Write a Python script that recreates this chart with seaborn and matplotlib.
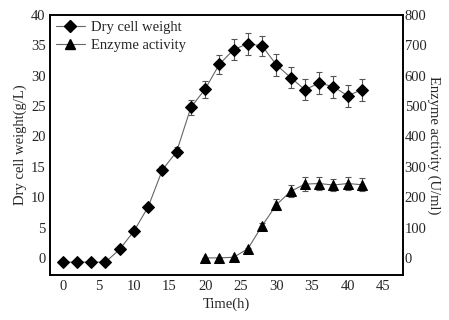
import numpy as np
import pandas as pd
import matplotlib
matplotlib.use("Agg")
import matplotlib.pyplot as plt
import seaborn as sns
from matplotlib.lines import Line2D

# dry cell weight (g/L), every 2 h
time_dcw = [0, 2, 4, 6, 8, 10, 12, 14, 16, 18, 20, 22, 24, 26, 28, 30, 32, 34, 36, 38, 40, 42]
dcw = [-0.7, -0.7, -0.7, -0.7, 1.4, 4.4, 8.4, 14.5, 17.5, 24.8, 27.8, 31.9,
       34.3, 35.3, 34.9, 31.8, 29.7, 27.7, 28.8, 28.2, 26.7, 27.7]
dcw_err = [0, 0, 0, 0, 0.2, 0.3, 0.3, 0.6, 0.8, 1.2, 1.4, 1.6,
           1.7, 1.8, 1.7, 1.8, 1.8, 1.7, 1.8, 1.8, 1.8, 1.8]

# enzyme activity (U/ml)
time_enz = [20, 22, 24, 26, 28, 30, 32, 34, 36, 38, 40, 42]
enz = [0, 0, 2, 30, 106, 175, 219, 243, 245, 240, 245, 241]
enz_err = [0, 0, 0, 3, 10, 18, 20, 22, 22, 20, 20, 22]

sns.set_style("white")
plt.rcParams["font.family"] = ["Liberation Serif", "DejaVu Serif"]
plt.rcParams["font.size"] = 10.5

df_dcw = pd.DataFrame({"Time": time_dcw, "DCW": dcw, "err": dcw_err})
df_enz = pd.DataFrame({"Time": time_enz, "Enzyme": enz, "err": enz_err})

fig = plt.figure(figsize=(4.49, 3.2), dpi=100)
ax = fig.add_axes([0.111, 0.141, 0.787, 0.812])
ax2 = ax.twinx()

ax.errorbar(df_dcw["Time"], df_dcw["DCW"], yerr=df_dcw["err"], fmt="none",
            ecolor="#555555", elinewidth=0.8, capsize=2.5, capthick=0.8)
sns.lineplot(data=df_dcw, x="Time", y="DCW", ax=ax, color="#666666", linewidth=0.8,
             marker="D", markersize=6, markerfacecolor="black", markeredgecolor="black")

ax2.errorbar(df_enz["Time"], df_enz["Enzyme"], yerr=df_enz["err"], fmt="none",
             ecolor="#555555", elinewidth=0.8, capsize=2.5, capthick=0.8)
sns.lineplot(data=df_enz, x="Time", y="Enzyme", ax=ax2, color="#666666", linewidth=0.8,
             marker="^", markersize=7, markerfacecolor="black", markeredgecolor="black")

ax.set_xlim(-1.8, 47.8)
ax.set_ylim(-2.8, 40)
ax2.set_ylim(-56, 800)
ax.set_xticks(range(0, 50, 5))
ax.set_yticks(range(0, 45, 5))
ax2.set_yticks(range(0, 900, 100))

ax.set_xlabel("Time(h)", labelpad=3)
ax.set_ylabel("Dry cell weight(g/L)", labelpad=3)
ax2.set_ylabel("Enzyme activity (U/ml)", rotation=270, labelpad=10)

for a in (ax, ax2):
    a.tick_params(length=0, labelsize=10.5)
    for s in a.spines.values():
        s.set_color("black")
        s.set_linewidth(1.2)
ax.tick_params(axis="y", pad=3)
ax.tick_params(axis="x", pad=4)
ax2.tick_params(axis="y", pad=1)

handles = [
    Line2D([], [], color="#666666", linewidth=0.8, marker="D", markersize=6,
           markerfacecolor="black", markeredgecolor="black"),
    Line2D([], [], color="#666666", linewidth=0.8, marker="^", markersize=7,
           markerfacecolor="black", markeredgecolor="black"),
]
ax.legend(handles, ["Dry cell weight", "Enzyme activity"], loc="upper left",
          frameon=False, fontsize=10.5, handlelength=2.0, handletextpad=0.4,
          borderaxespad=0.1, borderpad=0.3, labelspacing=0.35)
if ax2.get_legend() is not None:
    ax2.get_legend().remove()

fig.savefig("out.png", dpi=100)
